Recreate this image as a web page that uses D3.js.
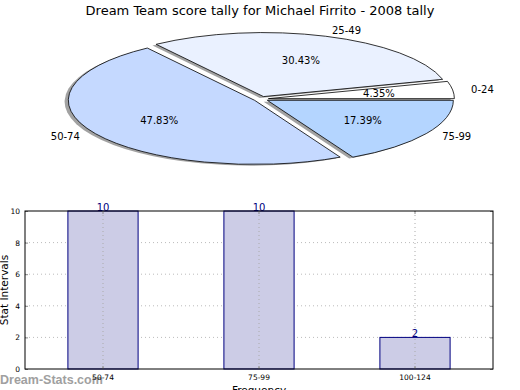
<!DOCTYPE html>
<html>
<head>
<meta charset="utf-8">
<title>Dream Team score tally</title>
<script src="https://d3js.org/d3.v7.min.js"></script>
<style>
body { margin: 0; background: #fff; }
text { font-family: "DejaVu Sans", sans-serif; }
</style>
</head>
<body>
<script>
// pie data
const pieLabels = ["0-24", "25-49", "50-74", "75-99"];
const pieCounts = [1, 7, 11, 4];
const pieColors = ["#ffffff", "#eaf1ff", "#c5d9ff", "#b4d5ff"];
// bar data
const barCats = ["50-74", "75-99", "100-124"];
const barVals = [10, 10, 2];
const yTicks = [0, 2, 4, 6, 8, 10];

const W = 520, H = 390;
const svg = d3.select("body").append("svg")
    .attr("width", W).attr("height", H);

svg.append("text")
    .attr("x", 260).attr("y", 15)
    .attr("text-anchor", "middle")
    .style("font-size", "13px")
    .text("Dream Team score tally for Michael Firrito - 2008 tally");

// ---- pie (matplotlib style: counter-clockwise from 3 o'clock, squashed)
const cx = 261, cy = 99, rx = 186, ry = 64, explode = 0.04;
const total = d3.sum(pieCounts);

const pie = d3.pie().sort(null)
    .startAngle(Math.PI / 2)
    .endAngle(Math.PI / 2 - 2 * Math.PI);
const arcs = pie(pieCounts);
const arc = d3.arc().innerRadius(0).outerRadius(1);

const pg = svg.append("g");

function off(d, k) {
  const m = (d.startAngle + d.endAngle) / 2;
  return [Math.sin(m) * k * rx, -Math.cos(m) * k * ry];
}

// shadows
arcs.forEach(function(d) {
  const o = off(d, explode);
  pg.append("path")
    .attr("transform", "translate(" + (cx + o[0] - 3.7) + "," + (cy + o[1] + 1.3) + ") scale(" + rx + "," + ry + ")")
    .attr("d", arc(d))
    .attr("fill", "#555")
    .attr("fill-opacity", 0.55);
});
// wedges
arcs.forEach(function(d, i) {
  const o = off(d, explode);
  pg.append("path")
    .attr("transform", "translate(" + (cx + o[0]) + "," + (cy + o[1]) + ") scale(" + rx + "," + ry + ")")
    .attr("d", arc(d))
    .attr("fill", pieColors[i])
    .attr("stroke", "#000")
    .attr("stroke-width", 0.8)
    .attr("vector-effect", "non-scaling-stroke");
});
// labels
arcs.forEach(function(d, i) {
  const o = off(d, explode);
  const m = (d.startAngle + d.endAngle) / 2;
  const lx = cx + o[0] + Math.sin(m) * 1.1 * rx;
  const ly = cy + o[1] - Math.cos(m) * 1.1 * ry;
  pg.append("text")
    .attr("x", lx).attr("y", ly)
    .attr("dy", "0.35em")
    .attr("text-anchor", Math.sin(m) > 0 ? "start" : "end")
    .style("font-size", "10px")
    .text(pieLabels[i]);
  const px = cx + o[0] + Math.sin(m) * 0.6 * rx;
  const py = cy + o[1] - Math.cos(m) * 0.6 * ry;
  pg.append("text")
    .attr("x", px).attr("y", py)
    .attr("dy", "0.35em")
    .attr("text-anchor", "middle")
    .style("font-size", "10px")
    .text((pieCounts[i] / total * 100).toFixed(2) + "%");
});

// ---- bar chart
const pLeft = 25, pRight = 493, pTop = 211, pBottom = 369;
const x = d3.scaleBand().domain(barCats).range([pLeft, pRight]);
const y = d3.scaleLinear().domain([0, 10]).range([pBottom, pTop]);
const bw = x.bandwidth() * 0.45;

const bg = svg.append("g");

// watermark (under the tick labels)
bg.append("text")
    .attr("x", 0).attr("y", 384)
    .style("font-family", "Liberation Sans, Arial, sans-serif")
    .style("font-size", "12.5px")
    .style("font-weight", "bold")
    .attr("fill", "#a0a0a0")
    .text("Dream-Stats.com");

// horizontal grid
bg.selectAll(".hg").data(yTicks.slice(1, -1)).enter().append("line")
    .attr("x1", pLeft).attr("x2", pRight)
    .attr("y1", d => y(d)).attr("y2", d => y(d))
    .attr("stroke", "#bbb").attr("stroke-width", 1)
    .attr("stroke-dasharray", "1,3");

bg.selectAll(".bar").data(barVals).enter().append("rect")
    .attr("x", (d, i) => x(barCats[i]) + x.bandwidth() / 2 - bw / 2)
    .attr("y", d => y(d))
    .attr("width", bw)
    .attr("height", d => pBottom - y(d))
    .attr("fill", "#cccce6")
    .attr("stroke", "#000080")
    .attr("stroke-width", 1);

// vertical grid
bg.selectAll(".vg").data(barCats).enter().append("line")
    .attr("x1", d => x(d) + x.bandwidth() / 2).attr("x2", d => x(d) + x.bandwidth() / 2)
    .attr("y1", pTop).attr("y2", pBottom)
    .attr("stroke", "#aaa").attr("stroke-width", 1)
    .attr("stroke-dasharray", "1,3");

// value labels
bg.selectAll(".vl").data(barVals).enter().append("text")
    .attr("x", (d, i) => x(barCats[i]) + x.bandwidth() / 2)
    .attr("y", d => y(d) - 0.5)
    .attr("text-anchor", "middle")
    .attr("fill", "#000080")
    .style("font-size", "10px")
    .text(d => d);

// axes
const yAxis = d3.axisLeft(y).tickValues(yTicks).tickSize(-3).tickPadding(5);
const ya = bg.append("g").attr("transform", "translate(" + pLeft + ",0)").call(yAxis);
const yaR = bg.append("g").attr("transform", "translate(" + pRight + ",0)")
    .call(d3.axisRight(y).tickValues(yTicks).tickSize(-3).tickFormat(""));
const xAxis = d3.axisBottom(x).tickSize(-3).tickPadding(6);
const xa = bg.append("g").attr("transform", "translate(0," + pBottom + ")").call(xAxis);
const xaT = bg.append("g").attr("transform", "translate(0," + pTop + ")")
    .call(d3.axisTop(x).tickSize(-3).tickFormat(""));

[ya, yaR, xa, xaT].forEach(function(a) {
  a.select(".domain").remove();
  a.selectAll(".tick line").attr("stroke", "#888");
  a.selectAll("text").style("font-family", "DejaVu Sans").style("font-size", "7.5px").attr("fill", "#000");
});

bg.append("rect")
    .attr("x", pLeft).attr("y", pTop)
    .attr("width", pRight - pLeft).attr("height", pBottom - pTop)
    .attr("fill", "none").attr("stroke", "#000").attr("stroke-width", 1);

bg.append("text")
    .attr("transform", "translate(8," + ((pTop + pBottom) / 2) + ") rotate(-90)")
    .attr("text-anchor", "middle")
    .style("font-size", "10.5px")
    .text("Stat Intervals");

bg.append("text")
    .attr("x", (pLeft + pRight) / 2).attr("y", 394)
    .attr("text-anchor", "middle")
    .style("font-size", "10.5px")
    .text("Frequency");
</script>
</body>
</html>
